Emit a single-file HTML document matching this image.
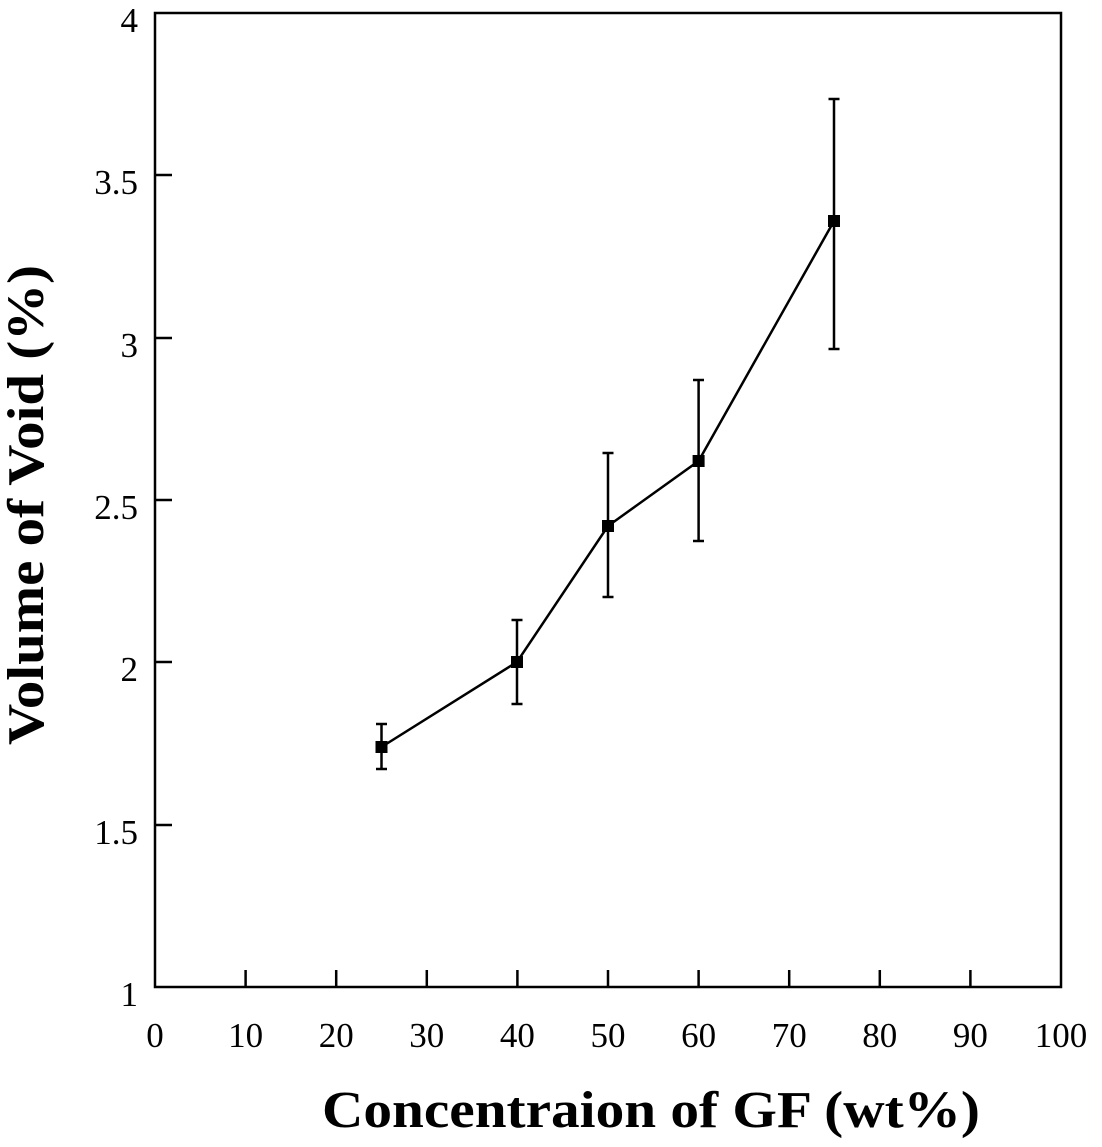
<!DOCTYPE html>
<html><head><style>body{margin:0;background:#fff}</style></head><body>
<svg width="1102" height="1142" xmlns="http://www.w3.org/2000/svg" font-family="Liberation Serif, serif">
<rect x="155" y="13" width="906" height="974" fill="none" stroke="#000" stroke-width="2.5"/>
<g stroke="#000" stroke-width="2.5">
<line x1="245.6" y1="987" x2="245.6" y2="970"/><line x1="336.2" y1="987" x2="336.2" y2="970"/>
<line x1="426.8" y1="987" x2="426.8" y2="970"/><line x1="517.4" y1="987" x2="517.4" y2="970"/>
<line x1="608" y1="987" x2="608" y2="970"/><line x1="698.6" y1="987" x2="698.6" y2="970"/>
<line x1="789.2" y1="987" x2="789.2" y2="970"/><line x1="879.8" y1="987" x2="879.8" y2="970"/>
<line x1="970.4" y1="987" x2="970.4" y2="970"/>
<line x1="155" y1="175" x2="172" y2="175"/><line x1="155" y1="338" x2="172" y2="338"/>
<line x1="155" y1="500" x2="172" y2="500"/><line x1="155" y1="662" x2="172" y2="662"/>
<line x1="155" y1="825" x2="172" y2="825"/>
</g>
<g font-size="35" text-anchor="middle">
<text x="155" y="1047">0</text><text x="245.6" y="1047">10</text><text x="336.2" y="1047">20</text>
<text x="426.8" y="1047">30</text><text x="517.4" y="1047">40</text><text x="608" y="1047">50</text>
<text x="698.6" y="1047">60</text><text x="789.2" y="1047">70</text><text x="879.8" y="1047">80</text>
<text x="970.4" y="1047">90</text><text x="1061" y="1047">100</text>
</g>
<g font-size="35" text-anchor="end">
<text x="138" y="32">4</text><text x="138" y="194">3.5</text><text x="138" y="357">3</text>
<text x="138" y="519">2.5</text><text x="138" y="681">2</text><text x="138" y="844">1.5</text>
<text x="138" y="1006">1</text>
</g>
<text x="322" y="1127" font-size="52" font-weight="bold" textLength="658" lengthAdjust="spacingAndGlyphs">Concentraion of GF (wt%)</text>
<text transform="translate(43,745) rotate(-90)" font-size="52" font-weight="bold" textLength="480" lengthAdjust="spacingAndGlyphs">Volume of Void (%)</text>
<polyline points="381.5,747 517,662 608,526 698.6,461 834,221" fill="none" stroke="#000" stroke-width="2.5"/>
<g stroke="#000" stroke-width="2.5">
<line x1="381.5" y1="724" x2="381.5" y2="769"/><line x1="376" y1="724" x2="387" y2="724"/><line x1="376" y1="769" x2="387" y2="769"/>
<line x1="517" y1="620" x2="517" y2="704"/><line x1="511.5" y1="620" x2="522.5" y2="620"/><line x1="511.5" y1="704" x2="522.5" y2="704"/>
<line x1="608" y1="453" x2="608" y2="597"/><line x1="602.5" y1="453" x2="613.5" y2="453"/><line x1="602.5" y1="597" x2="613.5" y2="597"/>
<line x1="698.6" y1="380" x2="698.6" y2="541"/><line x1="693" y1="380" x2="704" y2="380"/><line x1="693" y1="541" x2="704" y2="541"/>
<line x1="834" y1="99" x2="834" y2="349"/><line x1="828.5" y1="99" x2="839.5" y2="99"/><line x1="828.5" y1="349" x2="839.5" y2="349"/>
</g>
<g fill="#000">
<rect x="375.5" y="741" width="12" height="12"/><rect x="511" y="656" width="12" height="12"/>
<rect x="602" y="520" width="12" height="12"/><rect x="692.6" y="455" width="12" height="12"/>
<rect x="828" y="215" width="12" height="12"/>
</g>
</svg>
</body></html>
